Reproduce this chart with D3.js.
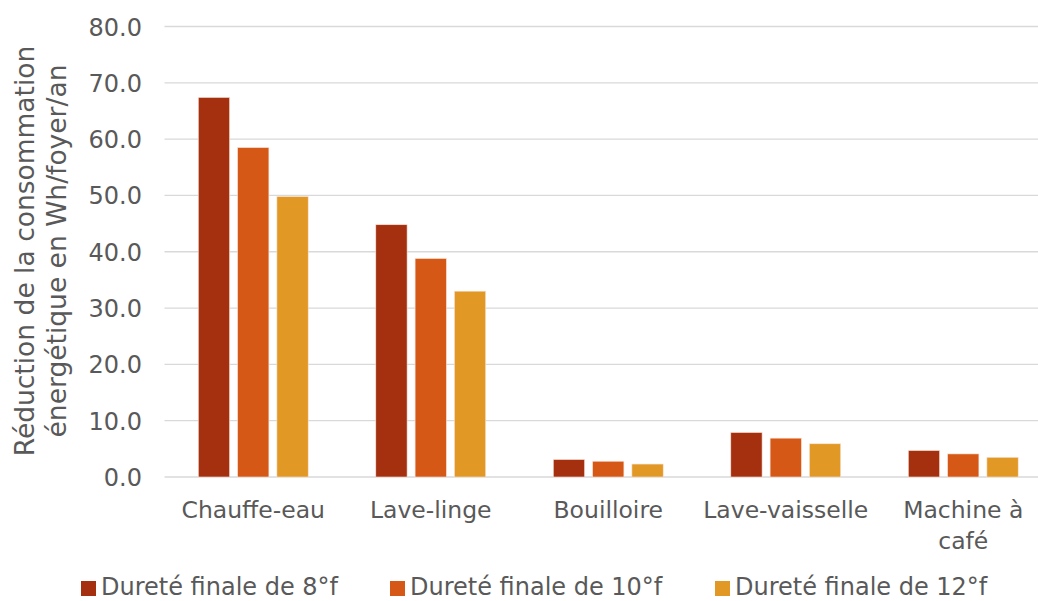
<!DOCTYPE html>
<html>
<head>
<meta charset="utf-8">
<script src="https://cdn.jsdelivr.net/npm/d3@7"></script>
<style>
  body { margin: 0; background: #fff; }
  svg { font-family: "DejaVu Sans", Verdana, sans-serif; }
</style>
</head>
<body>
<svg></svg>
<script>
let width = 1038,
  height = 601;

// Data
let categories = ["Chauffe-eau", "Lave-linge", "Bouilloire", "Lave-vaisselle", "Machine à café"];
let seriesNames = ["Dureté finale de 8°f", "Dureté finale de 10°f", "Dureté finale de 12°f"];
let dur8 = [67.4, 44.8, 3.1, 7.9, 4.7];
let dur10 = [58.5, 38.8, 2.8, 6.9, 4.1];
let dur12 = [49.8, 33.0, 2.3, 5.9, 3.5];
let yTicks = [0, 10, 20, 30, 40, 50, 60, 70, 80];
let colors = ["#A5300F", "#D55816", "#E19825"];

let series = [dur8, dur10, dur12];

let svg = d3.select("svg").attr("width", width).attr("height", height);

let x = d3.scaleBand().domain(categories).range([164.5, 1052]);
let y = d3.scaleLinear().domain([0, 80]).range([477, 26.5]);

let barW = 31.3, barStep = 39.3;

// gridlines
svg.append("g")
  .selectAll("line")
  .data(yTicks)
  .enter()
  .append("line")
  .attr("x1", 164.5)
  .attr("x2", width)
  .attr("y1", (d) => y(d))
  .attr("y2", (d) => y(d))
  .attr("stroke", "#d9d9d9")
  .attr("stroke-width", 1.3);

// y tick labels
svg.append("g")
  .selectAll("text")
  .data(yTicks)
  .enter()
  .append("text")
  .attr("x", 142)
  .attr("y", (d) => y(d) + 9)
  .attr("text-anchor", "end")
  .attr("fill", "#595959")
  .style("font-size", "24px")
  .text((d) => d.toFixed(1));

// bars
series.forEach((vals, si) => {
  svg.append("g")
    .selectAll("rect")
    .data(vals)
    .enter()
    .append("rect")
    .attr("x", (d, i) => x(categories[i]) + x.bandwidth() / 2 + (si - 1) * barStep - barW / 2)
    .attr("y", (d) => y(d))
    .attr("width", barW)
    .attr("height", (d) => y(0) - y(d))
    .attr("fill", colors[si])
    .attr("stroke", "#fbe3d6")
    .attr("stroke-width", 0.6);
});

// x labels
let xl = svg.append("g")
  .selectAll("text")
  .data(categories)
  .enter()
  .append("text")
  .attr("x", (d) => x(d) + x.bandwidth() / 2)
  .attr("y", 518)
  .attr("text-anchor", "middle")
  .attr("fill", "#595959")
  .style("font-size", "23.5px");
xl.each(function (d) {
  let t = d3.select(this);
  let lines = d == "Machine à café" ? ["Machine à", "café"] : [d];
  lines.forEach((l, k) => {
    t.append("tspan")
      .attr("x", x(d) + x.bandwidth() / 2)
      .attr("dy", k == 0 ? 0 : 31)
      .text(l);
  });
});

// y axis title
let title = svg.append("text")
  .attr("transform", "translate(25,251) rotate(-90)")
  .attr("text-anchor", "middle")
  .attr("fill", "#595959")
  .style("font-size", "26.5px");
title.append("tspan").attr("x", 0).attr("dy", 9).text("Réduction de la consommation");
title.append("tspan").attr("x", 0).attr("dy", 32).text("énergétique en Wh/foyer/an");

// legend
let legendX = [81, 390, 715];
let leg = svg.append("g")
  .selectAll("g")
  .data(seriesNames)
  .enter()
  .append("g")
  .attr("transform", (d, i) => "translate(" + legendX[i] + ",0)");
leg.append("rect")
  .attr("x", 0)
  .attr("y", 581)
  .attr("width", 15)
  .attr("height", 15)
  .attr("fill", (d, i) => colors[i]);
leg.append("text")
  .attr("x", 20)
  .attr("y", 595)
  .attr("fill", "#595959")
  .style("font-size", "24px")
  .text((d) => d);
</script>
</body>
</html>
